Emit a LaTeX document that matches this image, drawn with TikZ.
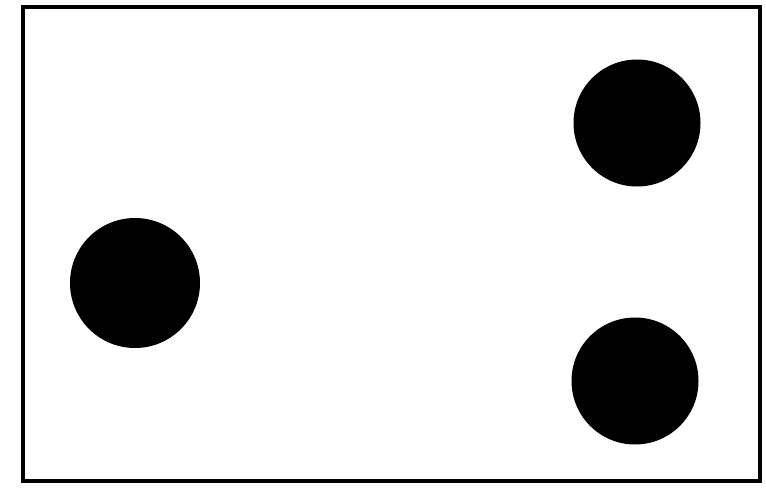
\documentclass[tikz,border=0pt]{standalone}
\begin{document}
\begin{tikzpicture}[x=1pt,y=-1pt,
  dot/.style={circle,fill=black,draw=none,inner sep=0pt,minimum size=#1}]
\useasboundingbox (0,0) rectangle (766,490);
\fill[white] (0,0) rectangle (766,490);
\draw[line width=4.5pt] (23,7) rectangle (760,481);
\node[dot=130pt] (left) at (135,283) {};
\node[dot=127pt] (topright) at (637,123) {};
\node[dot=127pt] (bottomright) at (635,381) {};
\end{tikzpicture}
\end{document}
